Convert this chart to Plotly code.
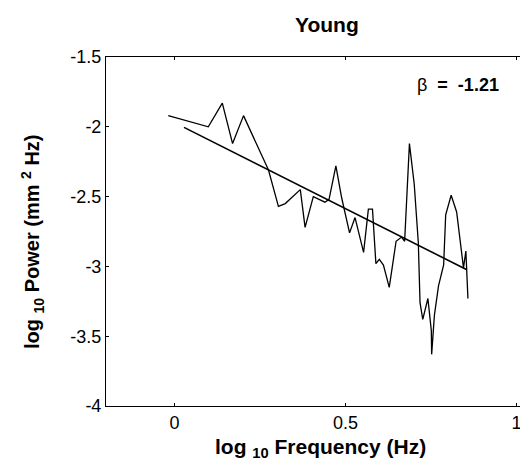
import plotly.graph_objects as go

# Spectrum (log10 frequency vs log10 power)
log_freq = [-0.018, 0.099, 0.14, 0.17, 0.202, 0.246, 0.275, 0.304, 0.324, 0.368,
            0.382, 0.406, 0.44, 0.452, 0.472, 0.489, 0.512, 0.528, 0.553, 0.567,
            0.579, 0.589, 0.599, 0.611, 0.628, 0.648, 0.664, 0.673, 0.687, 0.701,
            0.713, 0.718, 0.726, 0.741, 0.751, 0.752, 0.76, 0.772, 0.787, 0.793,
            0.809, 0.825, 0.845, 0.852, 0.858]
log_power = [-1.92, -2.00, -1.83, -2.12, -1.92, -2.16, -2.31, -2.57, -2.55, -2.45,
             -2.72, -2.50, -2.54, -2.52, -2.28, -2.51, -2.76, -2.65, -2.90, -2.59,
             -2.59, -2.98, -2.95, -2.99, -3.15, -2.82, -2.79, -2.82, -2.12, -2.41,
             -2.83, -3.26, -3.38, -3.23, -3.46, -3.63, -3.35, -3.14, -2.99, -2.63,
             -2.49, -2.61, -3.01, -2.89, -3.23]

# Regression line endpoints
fit_x = [0.028, 0.855]
fit_y = [-2.004, -3.024]

x_ticks = [0, 0.5, 1]
x_tick_labels = ["0", "0.5", "1"]
y_ticks = [-1.5, -2, -2.5, -3, -3.5, -4]
y_tick_labels = ["-1.5", "-2", "-2.5", "-3", "-3.5", "-4"]

FONT = "Arial, Liberation Sans, sans-serif"

fig = go.Figure()
fig.add_trace(go.Scatter(x=log_freq, y=log_power, mode="lines",
                         line=dict(color="black", width=1.3), showlegend=False))
fig.add_trace(go.Scatter(x=fit_x, y=fit_y, mode="lines",
                         line=dict(color="black", width=1.6), showlegend=False))

fig.update_layout(
    width=528, height=461,
    margin=dict(l=98, r=0, t=49, b=63),
    paper_bgcolor="white", plot_bgcolor="white",
    font=dict(family=FONT, color="black", size=18),
    showlegend=False,
)
fig.update_xaxes(range=[-0.2, 1.057], tickvals=x_ticks, ticktext=x_tick_labels,
                 showgrid=False, zeroline=False, showline=True, linecolor="black",
                 linewidth=1, mirror="ticks", ticks="inside", ticklen=3,
                 tickcolor="black", tickfont=dict(size=18, family=FONT))
fig.update_yaxes(range=[-4, -1.5], tickvals=y_ticks, ticktext=y_tick_labels,
                 showgrid=False, zeroline=False, showline=True, linecolor="black",
                 linewidth=1, ticks="inside", ticklen=3, tickcolor="black",
                 tickfont=dict(size=18, family=FONT))


def py(p):
    return (398 - p) / 349


def px(p):
    return (p - 98) / 430


fig.add_annotation(text="<b>Young</b>", x=px(319), y=py(17), xref="paper", yref="paper",
                   showarrow=False, font=dict(size=21, family=FONT),
                   xanchor="center", yanchor="middle")
fig.add_annotation(text="<b>log <sub>10</sub> Frequency (Hz)</b>", x=px(312), y=py(440),
                   xref="paper", yref="paper", showarrow=False,
                   font=dict(size=21, family=FONT), xanchor="center", yanchor="middle")
fig.add_annotation(text="<b>log <sub>10</sub> Power (mm <sup>2</sup> Hz)</b>", x=px(24), y=py(234),
                   xref="paper", yref="paper", showarrow=False, textangle=-90,
                   font=dict(size=20, family=FONT), xanchor="center", yanchor="middle")
fig.add_annotation(text="β&nbsp;&nbsp;<b>=&nbsp;&nbsp;-1.21</b>", x=0.83, y=-1.70,
                   xref="x", yref="y", showarrow=False, font=dict(size=18, family=FONT),
                   xanchor="center", yanchor="middle")

fig.write_html("out.html")
